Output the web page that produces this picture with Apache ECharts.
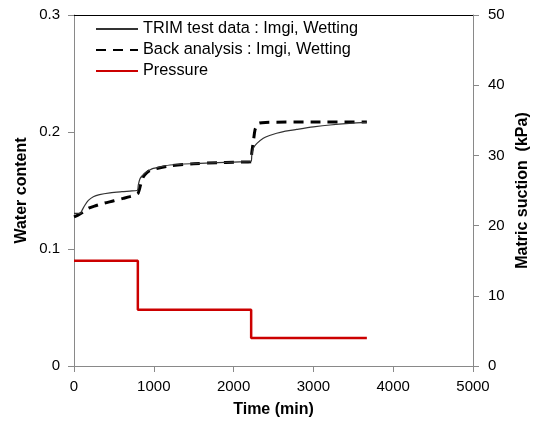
<!DOCTYPE html>
<html>
<head>
<meta charset="utf-8">
<script src="https://cdn.jsdelivr.net/npm/echarts@6/dist/echarts.min.js"></script>
<style>
  html, body { margin: 0; padding: 0; background: #fff; }
  #chart { width: 549px; height: 423px; }
</style>
</head>
<body>
<div id="chart"></div>
<script>
// Measured water content (TRIM test) over time: [time (min), water content]
const trimTime  = [0, 80, 100, 138, 180, 242, 320, 451, 600, 700, 790,
                   800, 806, 827, 860, 890, 950, 994, 1100, 1203, 1500, 1800, 2000, 2220,
                   2228, 2247, 2289, 2372, 2450, 2539, 2650, 2790, 3000, 3208, 3450, 3670];
const trimWater = [0.1305, 0.1305, 0.133, 0.1376, 0.1415, 0.1447, 0.1465, 0.148, 0.1490, 0.1495, 0.1500,
                   0.1510, 0.1547, 0.160, 0.1630, 0.165, 0.1675, 0.1689, 0.1705, 0.1718, 0.1730, 0.1738, 0.1743, 0.1748,
                   0.1800, 0.186, 0.190, 0.1946, 0.1970, 0.1989, 0.2007, 0.2022, 0.2043, 0.2060, 0.2074, 0.2083];

// Back-analysis result: [time (min), water content]
const backTime  = [0, 50, 100, 180, 280, 368, 500, 618, 700, 764, 790,
                   805, 815, 840, 869, 910, 952, 1050, 1200, 1500, 1800, 2000, 2220,
                   2227, 2250, 2268, 2290, 2310, 2400, 3000, 3670];
const backWater = [0.1275, 0.129, 0.131, 0.1348, 0.1372, 0.139, 0.1412, 0.1433, 0.1448, 0.1462, 0.1470,
                   0.1478, 0.1500, 0.1560, 0.1618, 0.1650, 0.1670, 0.1690, 0.1710, 0.1728, 0.1738, 0.1742, 0.1745,
                   0.1817, 0.1930, 0.2017, 0.2055, 0.2074, 0.2082, 0.2085, 0.2085];

// Applied matric suction steps: [time (min), kPa]
const pressureTime  = [0, 800, 2220, 3670];
const pressureValue = [15, 8, 4, 4];

const xTicks = { min: 0, max: 5000, interval: 1000 };
const waterTicks = { min: 0, max: 0.3, interval: 0.1 };
const suctionTicks = { min: 0, max: 50, interval: 10 };

const seriesNames = ['TRIM test data : Imgi, Wetting', 'Back analysis : Imgi, Wetting', 'Pressure'];

const zip = (a, b) => a.map((v, i) => [v, b[i]]);

const FONT = '"Liberation Sans", Arial, sans-serif';
const AXIS_GRAY = '#898989';
const labelStyle = { color: '#000', fontSize: 15, fontFamily: FONT };
const nameStyle = { color: '#000', fontSize: 16, fontWeight: 'bold', fontFamily: FONT };

const chart = echarts.init(document.getElementById('chart'), null, { renderer: 'canvas' });

chart.setOption({
  animation: false,
  backgroundColor: '#fff',
  grid: { left: 74, right: 76, top: 15, bottom: 57, containLabel: false },
  legend: {
    orient: 'vertical',
    left: 95,
    top: 21,
    itemWidth: 42,
    itemHeight: 15,
    itemGap: 5,
    padding: 0,
    itemStyle: { color: 'transparent', borderWidth: 0, opacity: 0 },
    textStyle: { color: '#000', fontSize: 16.3, lineHeight: 15, fontFamily: FONT },
    data: seriesNames
  },
  xAxis: [{
    type: 'value',
    min: xTicks.min, max: xTicks.max, interval: xTicks.interval,
    name: 'Time (min)',
    nameLocation: 'middle',
    nameGap: 36,
    nameMoveOverlap: false,
    nameTextStyle: nameStyle,
    axisLine: { onZero: false, lineStyle: { color: AXIS_GRAY, width: 1 } },
    axisTick: { show: true, inside: false, length: 6, lineStyle: { color: AXIS_GRAY } },
    axisLabel: Object.assign({ margin: 13, formatter: v => String(v) }, labelStyle),
    splitLine: { show: false }
  }, {
    // top frame line of the plot area
    type: 'value',
    position: 'top',
    min: xTicks.min, max: xTicks.max,
    axisLine: { onZero: false, lineStyle: { color: '#000', width: 1 } },
    axisTick: { show: false },
    axisLabel: { show: false },
    splitLine: { show: false }
  }],
  yAxis: [{
    type: 'value',
    position: 'left',
    min: waterTicks.min, max: waterTicks.max, interval: waterTicks.interval,
    name: 'Water content',
    nameLocation: 'middle',
    nameGap: 44,
    nameMoveOverlap: false,
    nameTextStyle: nameStyle,
    axisLine: { show: true, onZero: false, lineStyle: { color: AXIS_GRAY, width: 1 } },
    axisTick: { show: true, inside: false, length: 6, lineStyle: { color: AXIS_GRAY } },
    axisLabel: Object.assign({ margin: 14, formatter: v => String(+v.toFixed(1)) }, labelStyle),
    splitLine: { show: false }
  }, {
    type: 'value',
    position: 'right',
    min: suctionTicks.min, max: suctionTicks.max, interval: suctionTicks.interval,
    name: 'Matric suction  (kPa)',
    nameLocation: 'middle',
    nameGap: 42,
    nameMoveOverlap: false,
    nameTextStyle: nameStyle,
    axisLine: { show: true, onZero: false, lineStyle: { color: AXIS_GRAY, width: 1 } },
    axisTick: { show: true, inside: false, length: 6, lineStyle: { color: AXIS_GRAY } },
    axisLabel: Object.assign({ margin: 15 }, labelStyle),
    splitLine: { show: false }
  }],
  series: [{
    name: seriesNames[0],
    type: 'line',
    xAxisIndex: 0, yAxisIndex: 0,
    data: zip(trimTime, trimWater),
    smooth: 0.3,
    symbol: 'none',
    lineStyle: { color: '#333', width: 1.2 },
    itemStyle: { color: '#333' },
    z: 3
  }, {
    name: seriesNames[1],
    type: 'line',
    xAxisIndex: 0, yAxisIndex: 0,
    data: zip(backTime, backWater),
    smooth: 0.3,
    symbol: 'none',
    lineStyle: { color: '#000', width: 3, type: [10, 7] },
    itemStyle: { color: '#000' },
    z: 2
  }, {
    name: seriesNames[2],
    type: 'line',
    xAxisIndex: 0, yAxisIndex: 1,
    data: zip(pressureTime, pressureValue),
    step: 'end',
    symbol: 'none',
    lineStyle: { color: '#cc0000', width: 2.5 },
    itemStyle: { color: '#cc0000' },
    z: 2
  }]
});
</script>
</body>
</html>
